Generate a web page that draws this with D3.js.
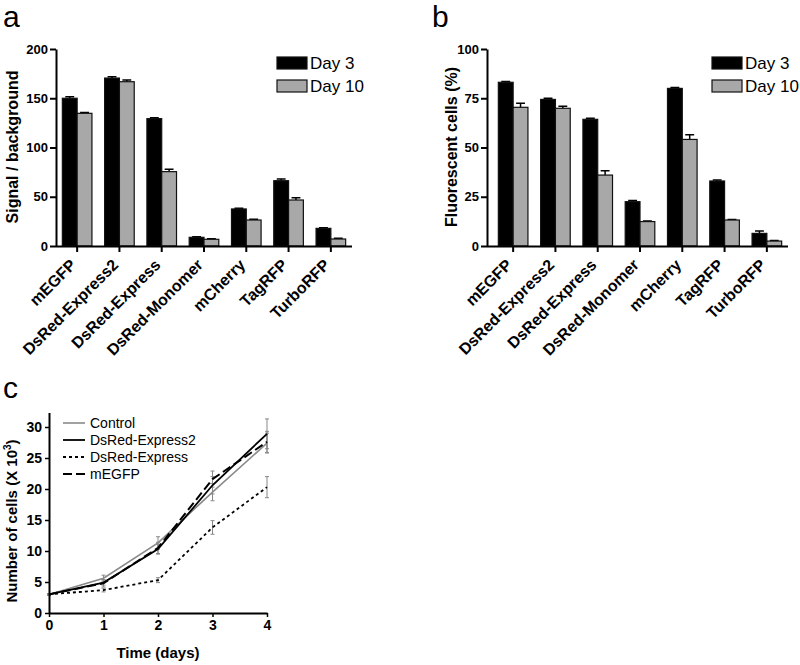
<!DOCTYPE html>
<html><head><meta charset="utf-8">
<script src="https://cdn.jsdelivr.net/npm/d3@7"></script>
<style>body{margin:0;background:#fff}svg{display:block}text{font-family:"Liberation Sans",Arial,sans-serif}</style>
</head><body>
<svg id="c" width="800" height="665"></svg>
<script>
const categories = ["mEGFP","DsRed-Express2","DsRed-Express","DsRed-Monomer","mCherry","TagRFP","TurboRFP"];
const seriesNames = ["Day 3","Day 10"];
const signalDay3 = [150,170.5,129.3,8.8,37.6,66.3,17.9];
const signalDay3Err = [1.6,1.4,0.8,0.6,0.6,1.6,0.7];
const signalDay10 = [134.7,166.8,75.5,6.8,26.4,46.7,7.1];
const signalDay10Err = [0.8,1.7,2.3,0.5,0.8,2.3,0.7];
const fluorDay3 = [83.1,74.4,64.3,22.5,80,33,6.4];
const fluorDay3Err = [0.4,0.6,0.6,0.6,0.4,0.5,1.2];
const fluorDay10 = [70.4,69.9,36,12.4,54.1,13.2,2.5];
const fluorDay10Err = [2.0,1.1,2.2,0.3,2.4,0.3,0.3];
const signalTicks = [0,50,100,150,200];
const fluorTicks = [0,25,50,75,100];

const days = [0,1,2,3,4];
const growthNames = ["Control","DsRed-Express2","DsRed-Express","mEGFP"];
const controlVals = [3,5.6,11.3,19.5,27.4];
const controlErr = [0.1,0.5,1.0,1.4,1.6];
const express2Vals = [3,4.9,10.3,20.6,28.9];
const express2Err = [0.1,0.4,0.8,1.4,2.4];
const expressVals = [3,3.7,5.3,13.8,20.3];
const expressErr = [0.1,0.3,0.4,1.1,1.7];
const megfpVals = [3,4.8,10.5,21.6,27.6];
const megfpErr = [0.1,0.6,0.9,1.3,1.7];
const growthTicksY = [0,5,10,15,20,25,30];

const svg = d3.select("#c");
const BLACK = "#000", GRAY = "#a8a8a8";

function panelLabel(t, x, y, size){
  svg.append("text").attr("x",x).attr("y",y).attr("font-size",size).text(t);
}

function barPanel(opt){
  const g = svg.append("g");
  const x = d3.scaleBand().domain(categories).range([opt.x0, opt.x1]).padding(0);
  const y = d3.scaleLinear().domain([0, opt.ymax]).range([246, 49]);
  const bw = x.step()*0.35;
  const series = [
    {vals: opt.d3, err: opt.e3, fill: BLACK, off: -bw},
    {vals: opt.d10, err: opt.e10, fill: GRAY, off: 0}
  ];
  series.forEach(s => {
    g.selectAll(null).data(categories).enter().append("path")
      .attr("d",(c,i)=>{
        const cx = x(c)+x.step()/2 + s.off + bw/2;
        const yt = y(s.vals[i]+s.err[i]);
        return `M${cx},${y(s.vals[i])}V${yt}M${cx-bw*0.3},${yt}H${cx+bw*0.3}`;
      }).attr("stroke","#000").attr("stroke-width",1.5).attr("fill","none");
    g.selectAll(null).data(categories).enter().append("rect")
      .attr("x",c=>x(c)+x.step()/2+s.off)
      .attr("width",bw)
      .attr("y",(c,i)=>y(s.vals[i]))
      .attr("height",(c,i)=>y(0)-y(s.vals[i]))
      .attr("fill",s.fill).attr("stroke","#111").attr("stroke-width",1.2);
  });
  const ya = g.append("g").attr("transform",`translate(${opt.ax},0)`)
    .call(d3.axisLeft(y).tickValues(opt.ticks).tickSize(6).tickPadding(2).tickSizeOuter(0));
  ya.select(".domain").attr("stroke-width",2);
  ya.selectAll(".tick line").attr("stroke-width",2);
  ya.selectAll("text").attr("font-size",13).attr("font-weight","bold").attr("fill","#000");
  const xa = g.append("g").attr("transform",`translate(0,246)`)
    .call(d3.axisBottom(x).tickSize(6).tickSizeOuter(0).tickFormat(""));
  xa.select(".domain").attr("d",`M${opt.ax},0.5H${opt.x1}`).attr("stroke-width",2);
  xa.selectAll(".tick line").attr("stroke-width",2);
  g.selectAll(null).data(categories).enter().append("text")
    .attr("transform",c=>`translate(${x(c)+x.step()/2-8},${258}) rotate(-45)`)
    .attr("text-anchor","end").attr("dy","0.7em")
    .attr("font-size",16).attr("font-weight","bold").text(c=>c);
  g.append("text").attr("transform",`translate(${opt.tx},${147}) rotate(-90)`)
    .attr("text-anchor","middle").attr("font-size",16).attr("font-weight","bold").text(opt.title);
  const lg = g.append("g");
  seriesNames.forEach((n,i)=>{
    lg.append("rect").attr("x",opt.lx).attr("y",57+i*23).attr("width",30).attr("height",12)
      .attr("fill", i===0?BLACK:GRAY).attr("stroke","#111").attr("stroke-width",1.2);
    lg.append("text").attr("x",opt.lx+33).attr("y",69+i*23).attr("font-size",17).text(n);
  });
}

panelLabel("a",3,27,30);
panelLabel("b",432,27,30);
panelLabel("c",3,398,30);

barPanel({x0:56,x1:352,ax:56,ymax:200,ticks:signalTicks,d3:signalDay3,e3:signalDay3Err,d10:signalDay10,e10:signalDay10Err,
  title:"Signal / background",tx:18,lx:277});
barPanel({x0:492,x1:788,ax:487,ymax:100,ticks:fluorTicks,d3:fluorDay3,e3:fluorDay3Err,d10:fluorDay10,e10:fluorDay10Err,
  title:"Fluorescent cells (%)",tx:457,lx:712});

const gc = svg.append("g");
const xc = d3.scaleLinear().domain([0,4]).range([49,267]);
const yc = d3.scaleLinear().domain([0,30]).range([613,427]);
const lineSeries = [
  {name:growthNames[0], vals:controlVals, err:controlErr, color:"#8a8a8a", w:1.6, dash:null},
  {name:growthNames[1], vals:express2Vals, err:express2Err, color:"#000", w:1.8, dash:null},
  {name:growthNames[2], vals:expressVals, err:expressErr, color:"#000", w:1.8, dash:"3,3"},
  {name:growthNames[3], vals:megfpVals, err:megfpErr, color:"#000", w:2, dash:"9,4"}
];
lineSeries.forEach(s=>{
  gc.selectAll(null).data(days).enter().append("path")
    .attr("d",(d,i)=>{
      const cx=xc(d), a=yc(s.vals[i]+s.err[i]), b=yc(s.vals[i]-s.err[i]);
      return `M${cx},${a}V${b}M${cx-2},${a}H${cx+2}M${cx-2},${b}H${cx+2}`;
    }).attr("stroke","#888").attr("stroke-width",1).attr("fill","none");
});
const line = d3.line().x((d,i)=>xc(days[i])).y(d=>yc(d));
lineSeries.forEach(s=>{
  gc.append("path").datum(s.vals).attr("d",line).attr("fill","none")
    .attr("stroke",s.color).attr("stroke-width",s.w).attr("stroke-dasharray",s.dash);
});
const yca = gc.append("g").attr("transform","translate(49,0)")
  .call(d3.axisLeft(yc).tickValues(growthTicksY).tickSize(4).tickPadding(3).tickSizeOuter(0));
yca.select(".domain").attr("d","M0.5,413V613").attr("stroke-width",2);
yca.selectAll(".tick line").attr("stroke-width",1.5);
yca.selectAll("text").attr("font-size",14).attr("font-weight","bold").attr("fill","#000");
const xca = gc.append("g").attr("transform","translate(0,613)")
  .call(d3.axisBottom(xc).tickValues(days).tickSize(4).tickPadding(3).tickSizeOuter(0).tickFormat(d3.format("d")));
xca.select(".domain").attr("stroke-width",2);
xca.selectAll(".tick line").attr("stroke-width",1.5);
xca.selectAll("text").attr("font-size",14).attr("font-weight","bold").attr("fill","#000");
const yt = gc.append("text").attr("transform","translate(17,521) rotate(-90)")
  .attr("text-anchor","middle").attr("font-size",15).attr("font-weight","bold");
yt.append("tspan").text("Number of cells (X 10");
yt.append("tspan").attr("font-size",10).attr("dy",-6).text("3");
yt.append("tspan").attr("dy",6).text(")");
gc.append("text").attr("x",158).attr("y",658).attr("text-anchor","middle")
  .attr("font-size",15).attr("font-weight","bold").text("Time (days)");
lineSeries.forEach((s,i)=>{
  const yy = 423 + i*17;
  gc.append("line").attr("x1",63).attr("x2",85).attr("y1",yy).attr("y2",yy)
    .attr("stroke",s.color).attr("stroke-width",s.w).attr("stroke-dasharray",s.dash);
  gc.append("text").attr("x",90).attr("y",yy+5).attr("font-size",14).text(s.name);
});
</script>
</body></html>
